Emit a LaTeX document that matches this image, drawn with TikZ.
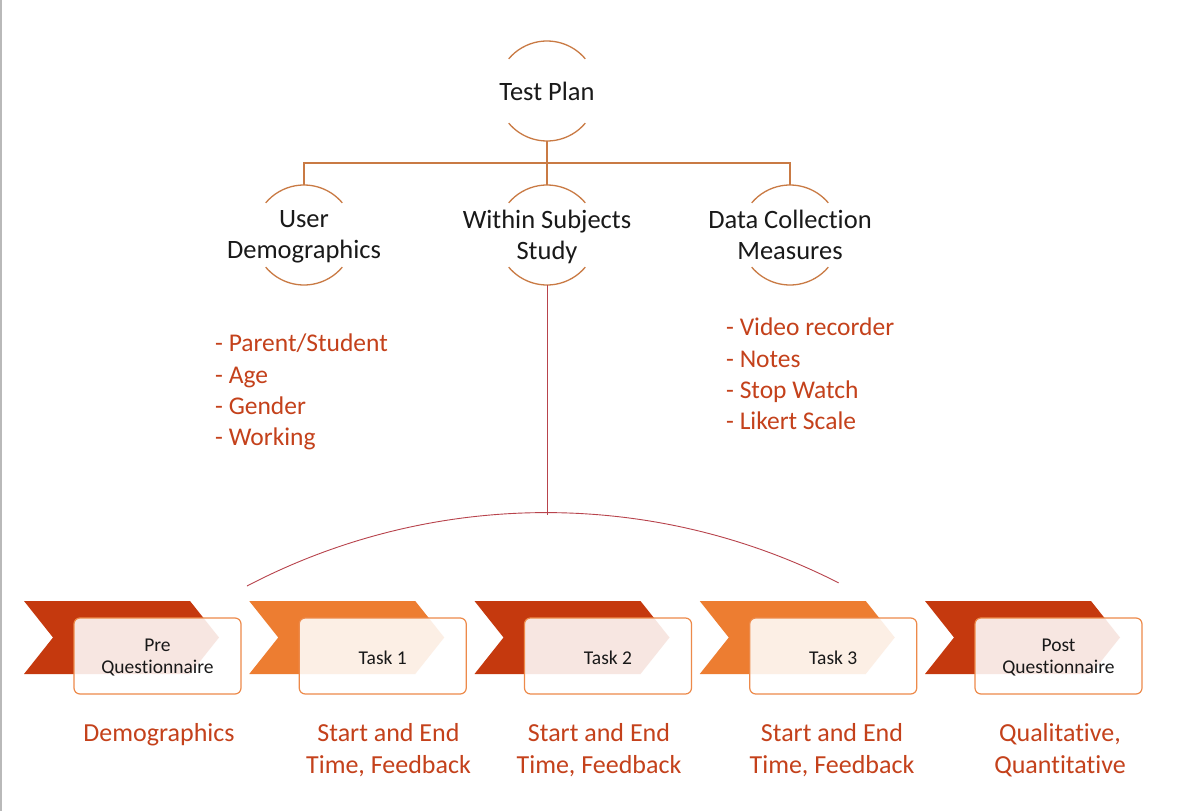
\documentclass[tikz,border=0pt]{standalone}
\usepackage{fontspec}
\setmainfont{Carlito}[Ligatures=NoCommon]
\begin{document}
\begin{tikzpicture}[x=1pt,y=-1pt,
  tree/.style={draw=treeline, line width=1.3pt},
  ring/.style={circle, minimum size=100pt, inner sep=0pt, outer sep=0pt},
  headtxt/.style={align=center, text=black!90, font=\fontsize{26.5}{31}\selectfont},
  listtxt/.style={align=left, anchor=north west, inner sep=0pt, text=labred, font=\fontsize{25.5}{31.3}\selectfont},
  steptxt/.style={align=center, anchor=north, inner sep=0pt, text=labred, font=\fontsize{26}{32}\selectfont},
  stagebox/.style={draw=boxline, line width=1.2pt, rounded corners=6pt, fill=white, fill opacity=0.88,
    minimum width=167pt, minimum height=76pt, inner sep=0pt},
  stagetxt/.style={align=center, font=\fontsize{19.5}{22}\selectfont, text=black!90}]
\definecolor{treeline}{HTML}{C97A44}
\definecolor{labred}{HTML}{C4411B}
\definecolor{dk}{HTML}{C5390E}
\definecolor{lt}{HTML}{ED7D31}
\definecolor{boxline}{HTML}{ED8A4A}
\definecolor{arcline}{HTML}{B8434C}

\useasboundingbox (0,0) rectangle (1183,811);
\fill[white] (0,0) rectangle (1183,811);
\draw[gray!55, line width=2pt] (1,0) -- (1,811);

% top of the hierarchy
\node[ring] (tp) at (547,91) {};
\node[headtxt] (tpt) at (tp.center) {Test Plan};
\node[ring] (ud) at (304,235) {};
\node[headtxt] (udt) at ([yshift=-1.5pt]ud.center) {User\\Demographics};
\node[ring] (ws) at (547,235) {};
\node[headtxt] (wst) at ([yshift=-1.5pt]ws.center) {Within Subjects\\Study};
\node[ring] (dc) at (790,235) {};
\node[headtxt] (dct) at (dc.center) {Data Collection\\Measures};

% open circles: an arc above and an arc below each heading
\foreach \n in {tp,ud,ws,dc}{
  \draw[tree] (\n.40) arc[start angle=40, end angle=140, radius=50pt];
  \draw[tree] (\n.220) arc[start angle=220, end angle=320, radius=50pt];
}

% branching connectors
\coordinate (bar) at (547,163);
\draw[tree] (tp.south) -- (bar);
\draw[tree] (ud.north) |- (bar) -| (dc.north);
\draw[tree] (bar) -- (ws.north);

% lists under the side headings
\node[listtxt] (udl) at (215,334) {- Parent/Student\\- Age\\- Gender\\- Working};
\node[listtxt] (dcl) at (726,318) {- Video recorder\\- Notes\\- Stop Watch\\- Likert Scale};

% arc spanning the three tasks
\coordinate (peak) at (547,515);
\coordinate (aL) at (247,586);
\draw[arcline, line width=0.9pt] (ws.south) -- (peak);
\draw[arcline, line width=0.9pt] (aL) arc[start angle=117.6, end angle=63, radius=645pt];

% process chevrons with their stage boxes
\foreach \x/\c/\n/\t in {
  24/dk/s1/{Pre\\Questionnaire},
  249.25/lt/s2/{Task 1},
  474.5/dk/s3/{Task 2},
  699.75/lt/s4/{Task 3},
  925/dk/s5/{Post\\Questionnaire}}{
  \fill[\c] (\x,601) -- (\x+166,601) -- (\x+195,637.5) -- (\x+166,674) -- (\x,674) -- (\x+29,637.5) -- cycle;
  \node[stagebox] (\n) at (\x+133.5,656) {};
  \node[stagetxt] (\n t) at ([yshift=-2pt]\n.center) {\t};
}

% outcomes of each stage
\node[steptxt] (o1) at (159,723) {Demographics};
\node[steptxt] (o2) at (388.5,723) {Start and End\\Time, Feedback};
\node[steptxt] (o3) at (599,723) {Start and End\\Time, Feedback};
\node[steptxt] (o4) at (832,723) {Start and End\\Time, Feedback};
\node[steptxt] (o5) at (1060,723) {Qualitative,\\Quantitative};
\end{tikzpicture}
\end{document}
